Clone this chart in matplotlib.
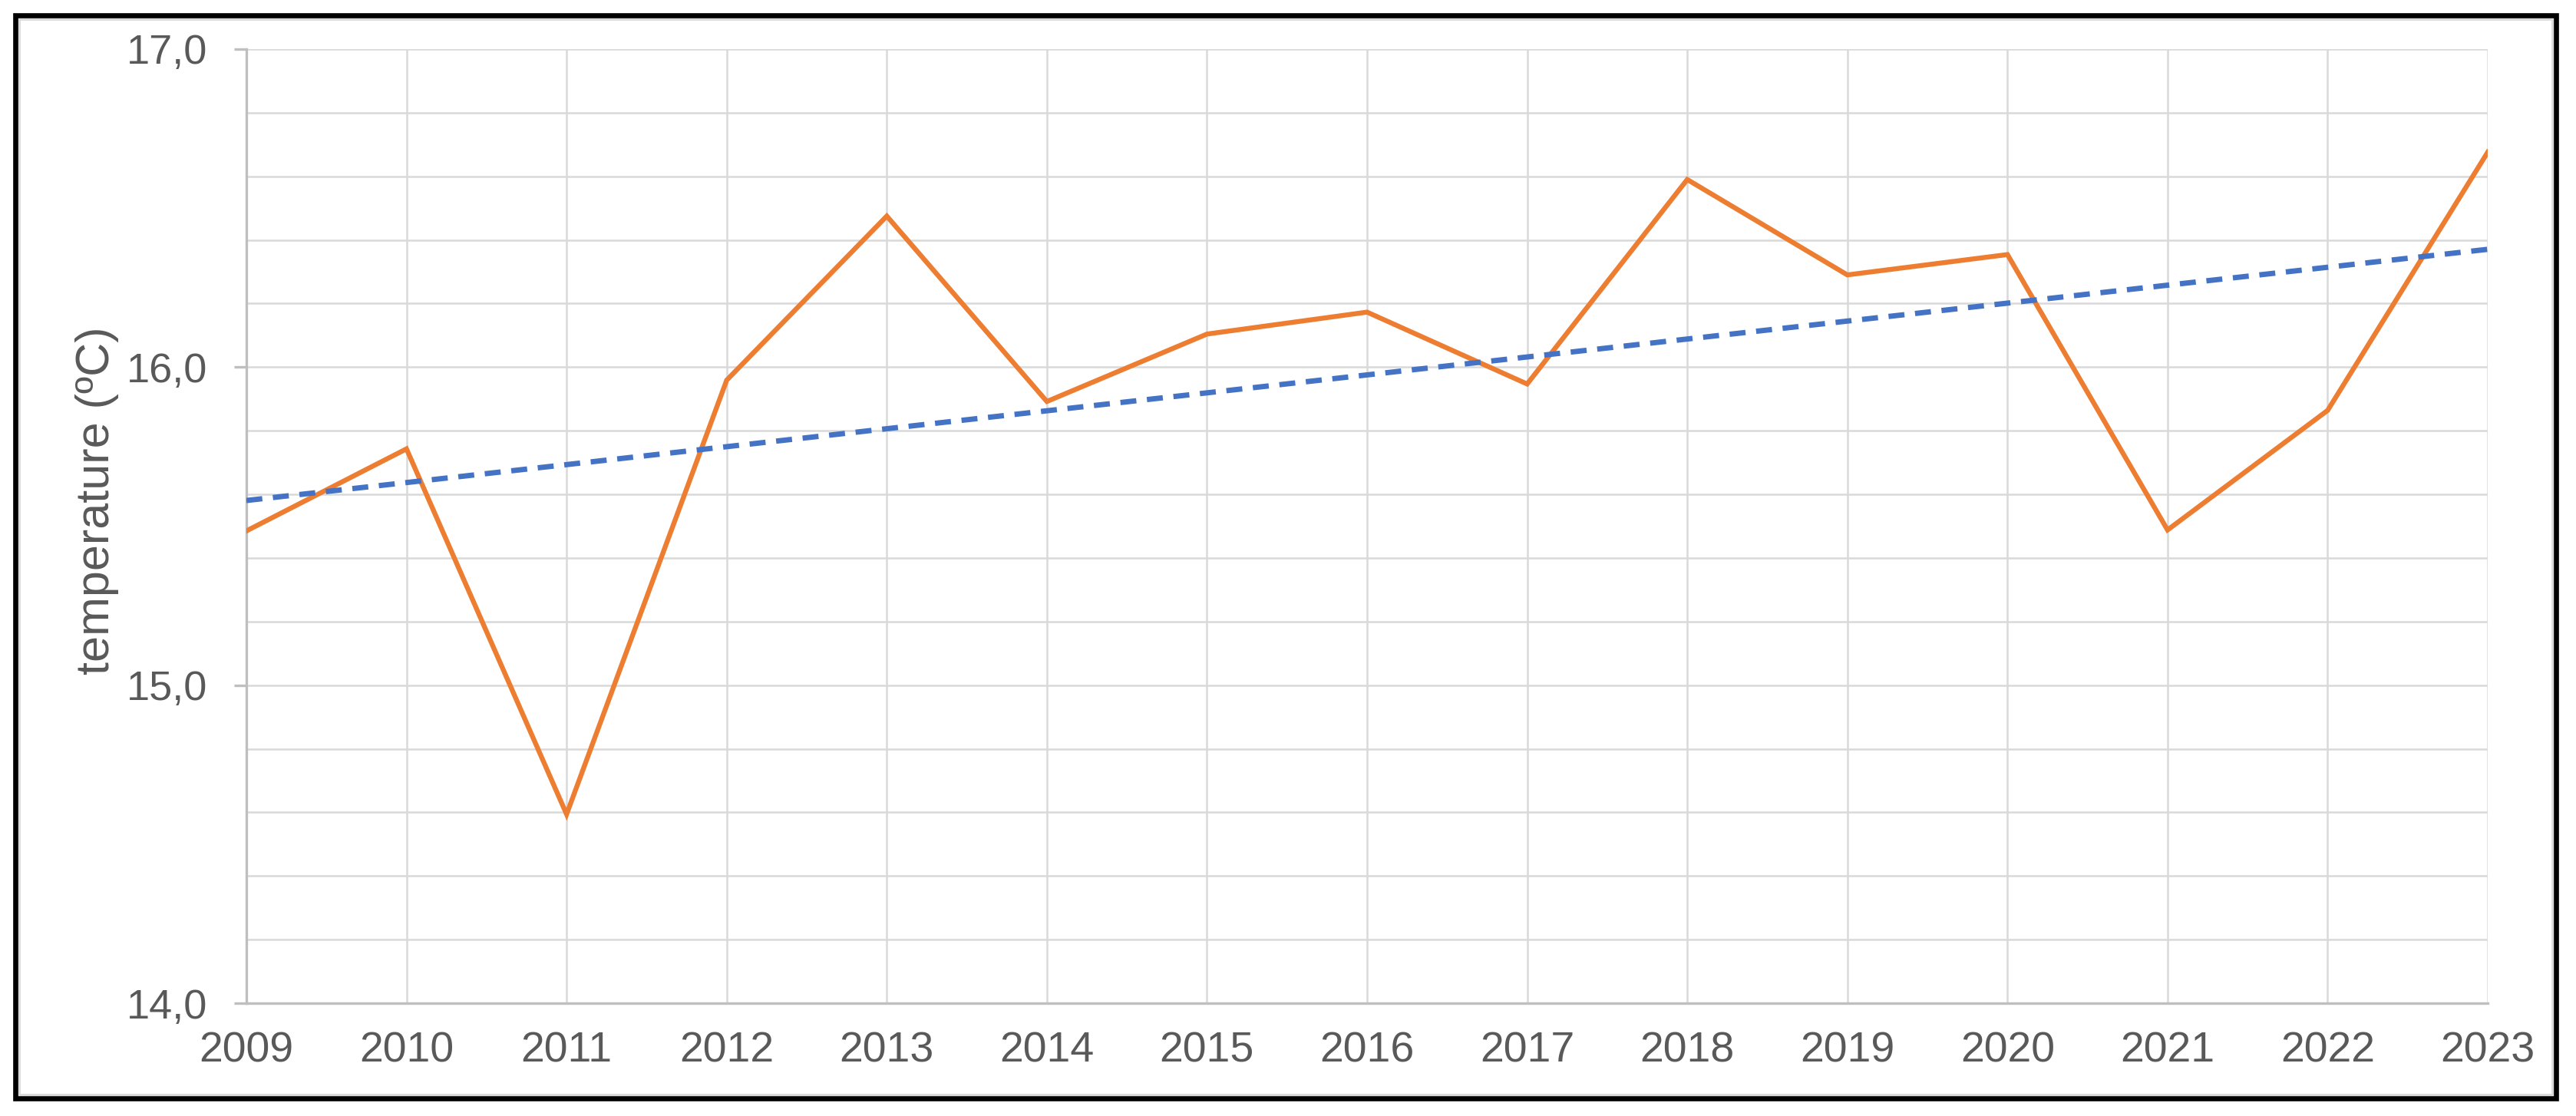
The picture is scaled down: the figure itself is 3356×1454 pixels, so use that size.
import numpy as np
import matplotlib
matplotlib.use("Agg")
import matplotlib.pyplot as plt
from matplotlib.patches import Rectangle
from matplotlib.ticker import MultipleLocator, FuncFormatter

plt.rcParams['font.family'] = ['Liberation Sans', 'DejaVu Sans']

years = [2009, 2010, 2011, 2012, 2013, 2014, 2015, 2016, 2017, 2018, 2019, 2020, 2021, 2022, 2023]
temperature = [15.485, 15.743, 14.594, 15.959, 16.475, 15.892, 16.104, 16.173, 15.947,
               16.590, 16.290, 16.354, 15.488, 15.864, 16.676]
y_label = "temperature (\u00baC)"

W, H = 3356, 1454
DPI = 200
fig = plt.figure(figsize=(W / DPI, H / DPI), dpi=DPI)
fig.patch.set_facecolor("white")

left, right, top, bottom = 321, 3241, 64, 1307
ax = fig.add_axes([left / W, 1 - bottom / H, (right - left) / W, (bottom - top) / H])

x = np.array(years, dtype=float)
y = np.array(temperature)
coef = np.polyfit(x, y, 1)
trend = np.polyval(coef, x)

ax.plot(x, y, color="#ED7D31", lw=2.3, solid_joinstyle="miter", zorder=3)
ax.plot(x, trend, color="#4472C4", lw=2.5, dashes=(3.0, 2.0), zorder=4)

ax.set_xlim(2009, 2023)
ax.set_ylim(14.0, 17.0)
ax.set_xticks(years)
ax.set_xticklabels([str(v) for v in years])
ax.yaxis.set_major_locator(MultipleLocator(1.0))
ax.yaxis.set_minor_locator(MultipleLocator(0.2))
ax.yaxis.set_major_formatter(FuncFormatter(lambda v, p: f"{v:.1f}".replace(".", ",")))

grid_c = "#d9d9d9"
ax.grid(True, which="major", axis="x", color=grid_c, lw=0.9, zorder=0)
ax.grid(True, which="both", axis="y", color=grid_c, lw=0.9, zorder=0)
ax.set_axisbelow(True)

for s in ["top", "right"]:
    ax.spines[s].set_visible(False)
for s in ["left", "bottom"]:
    ax.spines[s].set_color("#bfbfbf")
    ax.spines[s].set_linewidth(1.2)

ax.tick_params(axis="x", length=0, pad=13, labelsize=20, labelcolor="#595959")
ax.tick_params(axis="y", which="major", length=5.8, width=1.2, color="#bfbfbf",
               pad=12.5, labelsize=19.5, labelcolor="#595959")
ax.tick_params(axis="y", which="minor", length=0)

ax.set_ylabel(y_label, fontsize=22, color="#595959")
ax.yaxis.set_label_coords(-0.057, 0.527)

# outer chart frame
fig.add_artist(Rectangle((25 / W, 1 - 1426 / H), (3325 - 25) / W, (1426 - 25) / H,
                         transform=fig.transFigure, fill=False, edgecolor="#d9d9d9",
                         lw=1.0))
fig.add_artist(Rectangle((20 / W, 1 - 1431 / H), (3330 - 20) / W, (1431 - 20) / H,
                         transform=fig.transFigure, fill=False, edgecolor="black",
                         lw=2.4, joinstyle="miter"))

fig.savefig("out.png", dpi=DPI, facecolor="white")
